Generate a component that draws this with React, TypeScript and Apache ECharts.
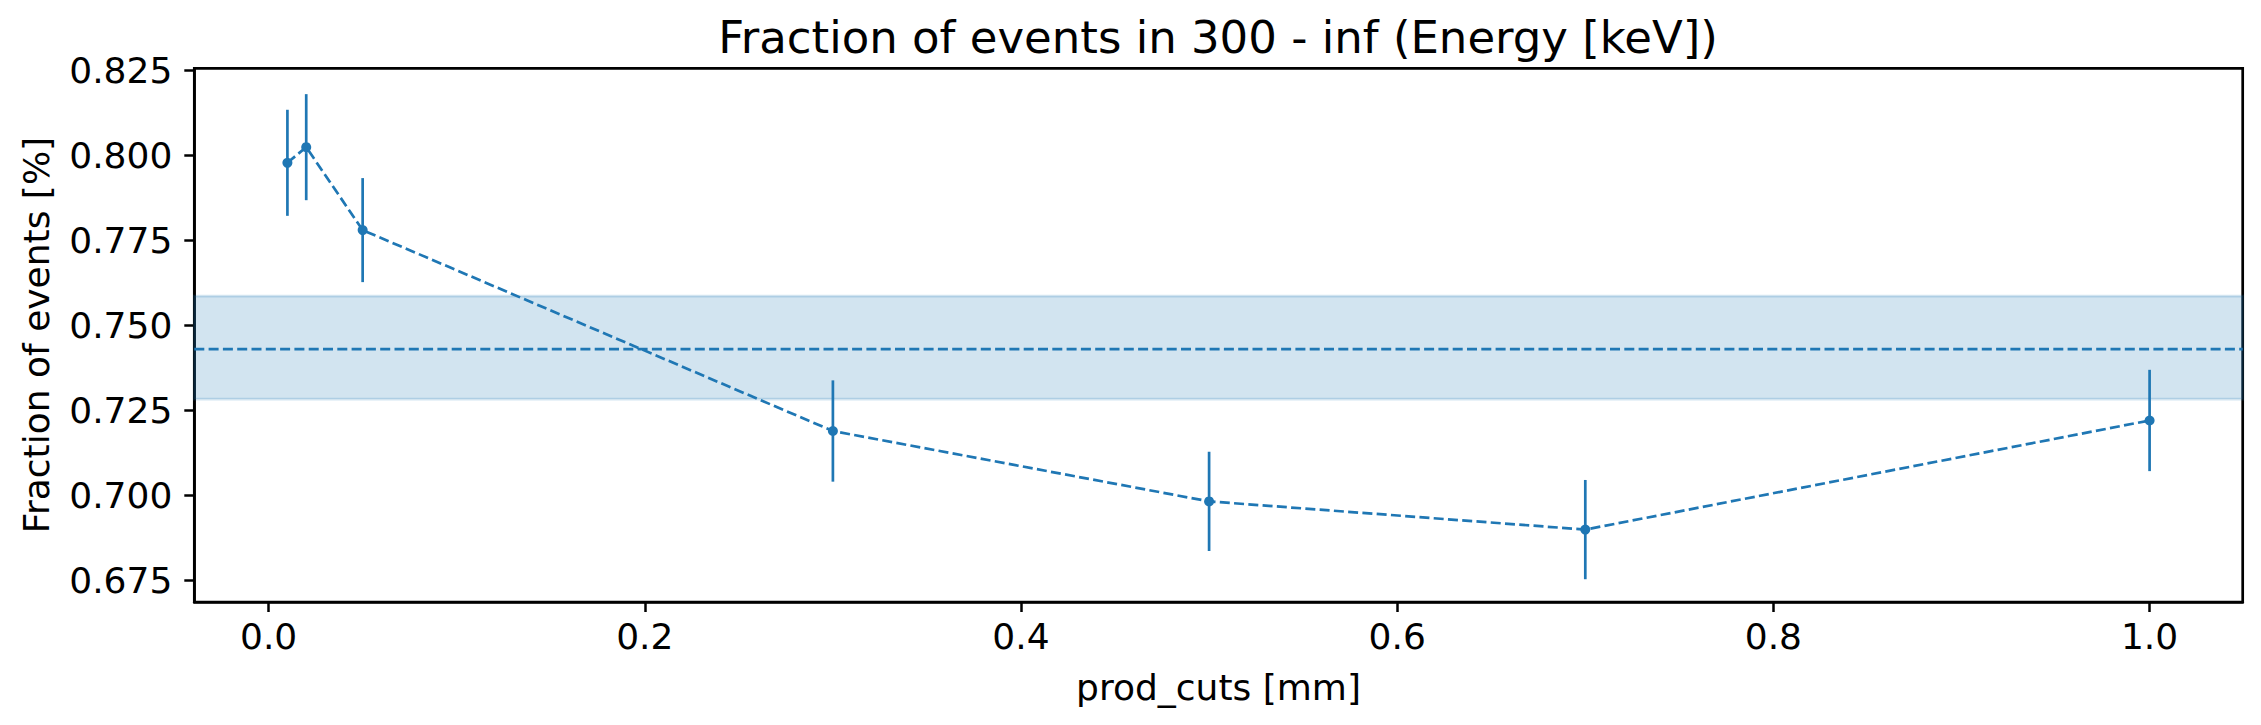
import React, { useEffect, useRef } from "react";
import * as echarts from "echarts";

const prodCuts = [0.01, 0.02, 0.05, 0.3, 0.5, 0.7, 1.0];
const fractions = [0.7979, 0.8025, 0.7781, 0.719, 0.6983, 0.69, 0.7221];
const errors = [0.0156, 0.0156, 0.0153, 0.0149, 0.0146, 0.0146, 0.0149];
const meanValue = 0.7431;
const bandLow = 0.7284;
const bandHigh = 0.7587;
const xTicks = [0, 0.2, 0.4, 0.6, 0.8, 1.0];
const yTicks = [0.675, 0.7, 0.725, 0.75, 0.775, 0.8, 0.825];

const C0 = "#1f77b4";
const FONT = "DejaVu Sans";

export default function App() {
  const ref = useRef<HTMLDivElement>(null);
  useEffect(() => {
    if (!ref.current) return;
    const chart = echarts.init(ref.current, null, { renderer: "svg" });
    const pts = prodCuts.map((x, i) => [x, fractions[i]]);
    const errData = prodCuts.map((x, i) => [x, fractions[i], errors[i]]);
    chart.setOption({
      animation: false,
      backgroundColor: "#ffffff",
      grid: {
        left: 194.3,
        right: 18.3,
        top: 68.3,
        bottom: 123,
        show: true,
        borderColor: "#000",
        borderWidth: 2.7,
        backgroundColor: "transparent",
      },
      xAxis: {
        type: "value",
        min: -0.0395,
        max: 1.0495,
        splitLine: { show: false },
        axisLine: { show: true, onZero: false, lineStyle: { color: "#000", width: 2.7 } },
        axisTick: {
          show: true,
          length: 10,
          lineStyle: { color: "#000", width: 2.5 },
          customValues: xTicks,
        },
        axisLabel: {
          customValues: xTicks,
          formatter: (v: number) => v.toFixed(1),
          fontFamily: FONT,
          fontSize: 36,
          color: "#000",
          margin: 16,
        },
      },
      yAxis: {
        type: "value",
        min: 0.6687,
        max: 0.8257,
        splitLine: { show: false },
        axisLine: { show: true, onZero: false, lineStyle: { color: "#000", width: 2.7 } },
        axisTick: {
          show: true,
          length: 10,
          lineStyle: { color: "#000", width: 2.5 },
          customValues: yTicks,
        },
        axisLabel: {
          customValues: yTicks,
          formatter: (v: number) => v.toFixed(3),
          fontFamily: FONT,
          fontSize: 36,
          color: "#000",
          margin: 22,
        },
      },
      graphic: [
        {
          type: "text",
          x: 1218,
          y: 37,
          style: {
            text: "Fraction of events in 300 - inf (Energy [keV])",
            fontFamily: FONT,
            fontSize: 45,
            fill: "#000",
            align: "center",
            verticalAlign: "middle",
          },
        },
        {
          type: "text",
          x: 1218.5,
          y: 687,
          style: {
            text: "prod_cuts [mm]",
            fontFamily: FONT,
            fontSize: 36,
            fill: "#000",
            align: "center",
            verticalAlign: "middle",
          },
        },
        {
          type: "text",
          x: 36,
          y: 335,
          rotation: Math.PI / 2,
          style: {
            text: "Fraction of events [%]",
            fontFamily: FONT,
            fontSize: 36,
            fill: "#000",
            align: "center",
            verticalAlign: "middle",
          },
        },
      ],
      series: [
        {
          type: "custom",
          z: 1,
          data: [[bandLow, bandHigh]],
          renderItem: (params: any, api: any) => {
            const cs = params.coordSys;
            const yl = api.coord([0, api.value(0)])[1];
            const yh = api.coord([0, api.value(1)])[1];
            return {
              type: "rect",
              shape: { x: cs.x, y: yh, width: cs.width, height: yl - yh },
              style: {
                fill: "rgba(31,119,180,0.2)",
                stroke: "rgba(31,119,180,0.2)",
                lineWidth: 2.7,
              },
            };
          },
          silent: true,
        },
        {
          type: "custom",
          z: 2,
          data: [[meanValue]],
          renderItem: (params: any, api: any) => {
            const cs = params.coordSys;
            const y = api.coord([0, api.value(0)])[1];
            return {
              type: "line",
              shape: { x1: cs.x, y1: y, x2: cs.x + cs.width, y2: y },
              style: { stroke: C0, lineWidth: 2.7, lineDash: [10, 4.3] },
            };
          },
          silent: true,
        },
        {
          type: "line",
          z: 3,
          data: pts,
          symbol: "circle",
          symbolSize: 10,
          showSymbol: true,
          lineStyle: { color: C0, width: 2.7, type: [10, 4.3] },
          itemStyle: { color: C0 },
          silent: true,
        },
        {
          type: "custom",
          z: 4,
          data: errData,
          encode: { x: 0, y: 1 },
          renderItem: (params: any, api: any) => {
            const x = api.value(0);
            const y = api.value(1);
            const e = api.value(2);
            const p1 = api.coord([x, y - e]);
            const p2 = api.coord([x, y + e]);
            return {
              type: "line",
              shape: { x1: p1[0], y1: p1[1], x2: p2[0], y2: p2[1] },
              style: { stroke: C0, lineWidth: 2.7 },
            };
          },
          silent: true,
        },
      ],
    });
    return () => chart.dispose();
  }, []);
  return (
    <div
      ref={ref}
      style={{ position: "absolute", left: 0, top: 0, width: 2261, height: 725 }}
    />
  );
}
